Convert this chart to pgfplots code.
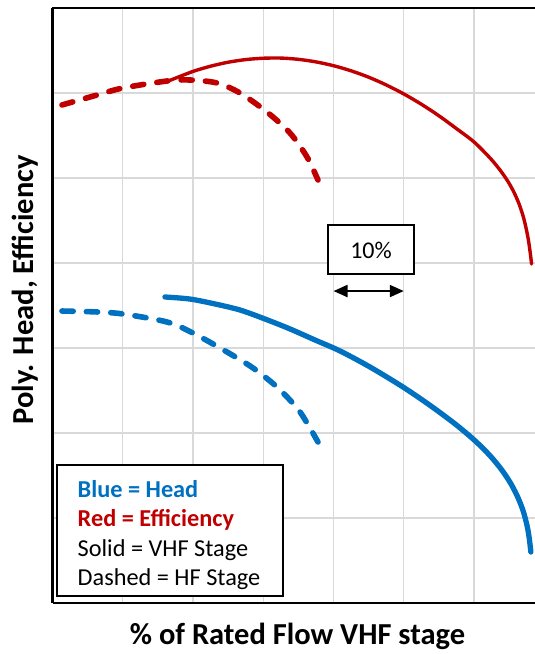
\documentclass[border=0pt]{standalone}
\usepackage{fontspec}
\setmainfont{Carlito}
\usepackage{pgfplots}
\pgfplotsset{compat=1.18}
\usetikzlibrary{arrows.meta}
\definecolor{effred}{HTML}{C00000}
\definecolor{headblue}{HTML}{0070C0}
\definecolor{gridgray}{HTML}{D9D9D9}

\begin{document}
\begin{tikzpicture}
\begin{axis}[
  at={(0,0)}, anchor=south west,
  scale only axis, width=482.5bp, height=595bp,
  xmin=0, xmax=6.868, ymin=0, ymax=7,
  xtick={1,...,6}, ytick={1,...,6},
  xticklabels={}, yticklabels={},
  major tick length=0pt,
  grid=major,
  major grid style={gridgray, line width=1.3bp},
  axis x line*=bottom, axis y line*=left,
  axis line style={black, line width=2bp, -},
]
% VHF stage efficiency (solid red)
\addplot[effred, line width=3.4bp, line cap=round, smooth] coordinates {
  (1.673,6.149) (2.00,6.254) (2.25,6.315) (2.50,6.362) (2.75,6.393)
  (3.00,6.409) (3.25,6.411) (3.50,6.396) (3.75,6.366) (4.00,6.321)
  (4.25,6.261) (4.50,6.186) (4.75,6.095) (5.00,5.989) (5.25,5.868)
  (5.50,5.732) (5.75,5.581) (6.000,5.424) (6.228,5.235) (6.370,5.094)
  (6.484,4.958) (6.569,4.831) (6.641,4.695) (6.698,4.554) (6.740,4.414)
  (6.776,4.260) (6.804,4.095) (6.819,3.988)
};
% HF stage efficiency (dashed red)
\addplot[effred, line width=5.6bp, line cap=round, smooth,
  dash pattern=on 11.2bp off 13.2bp] coordinates {
  (0.135,5.859) (0.633,5.976) (1.004,6.059) (1.630,6.141) (1.957,6.153)
  (2.342,6.118) (2.669,6.000) (3.053,5.776) (3.381,5.529) (3.623,5.247)
  (3.779,4.976)
};
% VHF stage head (solid blue)
\addplot[headblue, line width=5.3bp, line cap=round, smooth] coordinates {
  (1.601,3.600) (1.957,3.576) (2.313,3.518) (2.669,3.447) (3.025,3.341)
  (3.381,3.224) (3.737,3.094) (4.093,2.965) (4.520,2.776) (4.989,2.541)
  (5.374,2.325) (5.730,2.107) (6.014,1.909) (6.228,1.733) (6.399,1.561)
  (6.527,1.400) (6.626,1.239) (6.698,1.086) (6.747,0.938) (6.776,0.818)
  (6.797,0.689) (6.809,0.600)
};
% HF stage head (dashed blue)
\addplot[headblue, line width=5.6bp, line cap=round, smooth,
  dash pattern=on 11.2bp off 13.2bp] coordinates {
  (0.135,3.435) (0.633,3.424) (1.004,3.400) (1.630,3.306) (2.000,3.176)
  (2.484,2.953) (2.854,2.765) (3.196,2.541) (3.481,2.294) (3.623,2.118)
  (3.779,1.894)
};
% 10% flow span: one grid interval
\draw[black, line width=2bp,
  {Triangle[length=14bp,width=12bp]}-{Triangle[length=14bp,width=12bp]}]
  (axis cs:4,3.67) -- (axis cs:5,3.67);
\end{axis}

% top frame line (open on the right)
\draw[black, line width=2bp] (-1bp,595bp) -- (482.5bp,595bp);

% key box
\draw[black, line width=1.5bp, fill=white] (4.5bp,7bp) rectangle (230.5bp,138bp);
\begin{scope}[every node/.style={anchor=base west, inner sep=0pt,
    font=\fontsize{24.3bp}{29bp}\selectfont}]
  \node[text=headblue, font=\fontsize{24.3bp}{29bp}\selectfont\bfseries] at (25bp,105bp) {Blue = Head};
  \node[text=effred, font=\fontsize{24.3bp}{29bp}\selectfont\bfseries] at (25bp,76bp) {Red = Efficiency};
  \node at (25bp,46bp) {Solid = VHF Stage};
  \node at (25bp,18bp) {Dashed = HF Stage};
\end{scope}

% 10% label box
\draw[black, line width=1.5bp, fill=white] (275.5bp,329bp) rectangle (361.5bp,378bp);
\node[font=\fontsize{24bp}{29bp}\selectfont, inner sep=0pt] at (318.5bp,353bp) {10\%};

% axis titles
\node[font=\fontsize{30.5bp}{36bp}\selectfont\bfseries, inner sep=0pt] at (245bp,-33bp)
  {\% of Rated Flow VHF stage};
\node[font=\fontsize{30.5bp}{36bp}\selectfont\bfseries, inner sep=0pt, rotate=90] at (-27.5bp,313bp)
  {Poly. Head, Efficiency};

\pgfresetboundingbox
\path[use as bounding box] (-52.5bp,-51bp) rectangle (482.5bp,603bp);
\end{tikzpicture}
\end{document}
